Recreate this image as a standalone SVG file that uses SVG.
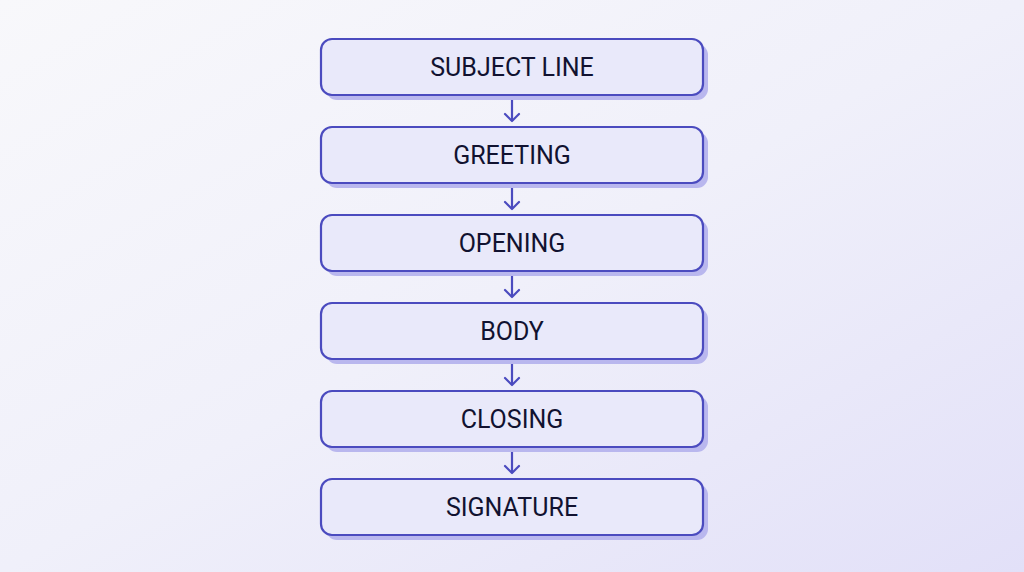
<svg xmlns="http://www.w3.org/2000/svg" width="1024" height="572" viewBox="0 0 1024 572">
<defs>
<linearGradient id="bg" x1="0" y1="0" x2="1" y2="1">
<stop offset="0" stop-color="#f8f8fb"/>
<stop offset="0.5" stop-color="#f0f0fa"/>
<stop offset="1" stop-color="#e2e0f8"/>
</linearGradient>
<marker id="arr" markerWidth="12" markerHeight="18" refX="10" refY="9" orient="auto" markerUnits="userSpaceOnUse" viewBox="0 0 12 18">
<path d="M3 2 L10 9 L3 16" fill="none" stroke="#4b4bbf" stroke-width="2.2" stroke-linecap="round" stroke-linejoin="round"/>
</marker>
<style>
.sh{fill:#b9b7ee;}
.box{fill:#e9e9fa;stroke:#4b4bbf;stroke-width:2.2;}
.lbl{font-family:Roboto,"Liberation Sans",sans-serif;font-size:25px;fill:#111230;text-anchor:middle;dominant-baseline:central;}
.con{stroke:#4b4bbf;stroke-width:2.2;fill:none;}
</style>
</defs>
<rect width="1024" height="572" fill="url(#bg)"/>
<g id="connectors">
<line class="con" x1="512" y1="96" x2="512" y2="121" marker-end="url(#arr)"/>
<line class="con" x1="512" y1="184" x2="512" y2="209" marker-end="url(#arr)"/>
<line class="con" x1="512" y1="272" x2="512" y2="297" marker-end="url(#arr)"/>
<line class="con" x1="512" y1="360" x2="512" y2="385" marker-end="url(#arr)"/>
<line class="con" x1="512" y1="448" x2="512" y2="473" marker-end="url(#arr)"/>
</g>
<g id="n1"><rect class="sh" x="326" y="44" width="382" height="56" rx="11"/><rect class="box" x="321" y="39" width="382" height="56" rx="11"/><text class="lbl" x="512" y="67">SUBJECT LINE</text></g>
<g id="n2"><rect class="sh" x="326" y="132" width="382" height="56" rx="11"/><rect class="box" x="321" y="127" width="382" height="56" rx="11"/><text class="lbl" x="512" y="155">GREETING</text></g>
<g id="n3"><rect class="sh" x="326" y="220" width="382" height="56" rx="11"/><rect class="box" x="321" y="215" width="382" height="56" rx="11"/><text class="lbl" x="512" y="243">OPENING</text></g>
<g id="n4"><rect class="sh" x="326" y="308" width="382" height="56" rx="11"/><rect class="box" x="321" y="303" width="382" height="56" rx="11"/><text class="lbl" x="512" y="331">BODY</text></g>
<g id="n5"><rect class="sh" x="326" y="396" width="382" height="56" rx="11"/><rect class="box" x="321" y="391" width="382" height="56" rx="11"/><text class="lbl" x="512" y="419">CLOSING</text></g>
<g id="n6"><rect class="sh" x="326" y="484" width="382" height="56" rx="11"/><rect class="box" x="321" y="479" width="382" height="56" rx="11"/><text class="lbl" x="512" y="507">SIGNATURE</text></g>
</svg>
